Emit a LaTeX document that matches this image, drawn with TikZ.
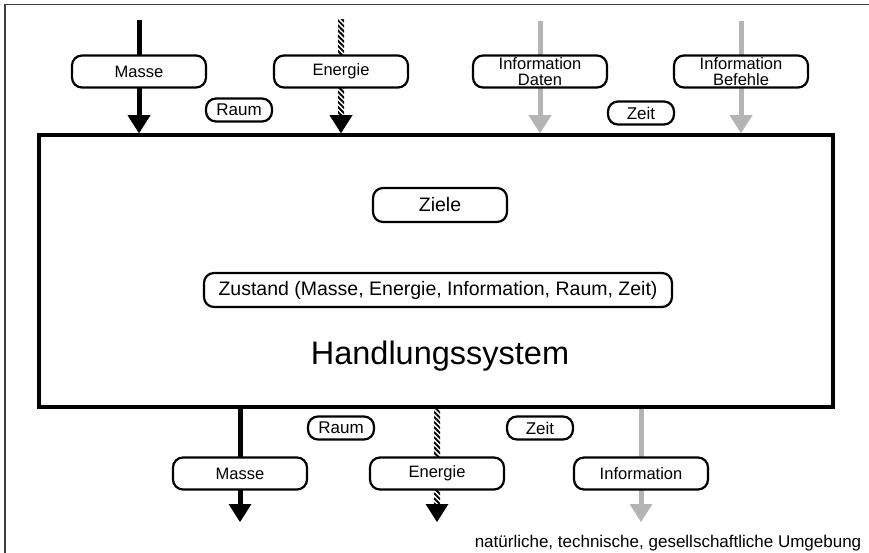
\documentclass[tikz,border=0pt]{standalone}
\usepackage{fontspec}
\setmainfont{Liberation Sans}
\usetikzlibrary{arrows.meta,patterns.meta,calc}
\definecolor{infogray}{RGB}{180,180,180}
\begin{document}
\begin{tikzpicture}[x=1pt,y=-1pt,
  labelbox/.style={draw, line width=2.2pt, rounded corners=10pt, fill=white,
    minimum width=134pt, minimum height=32pt, inner sep=0pt,
    font=\fontsize{16.5}{15.5}\selectfont, align=center},
  tagbox/.style={draw, line width=2.2pt, rounded corners=10pt, fill=white,
    minimum width=66pt, minimum height=23pt, inner sep=0pt,
    font=\fontsize{17}{17}\selectfont},
  innerbox/.style={labelbox, minimum height=34pt, font=\fontsize{19.5}{20}\selectfont},
  flowtip/.style={-{Triangle[width=23pt,length=18pt,line width=0pt]}},
  massflow/.style={flowtip, line width=5pt, draw=black, fill=black},
  infoflow/.style={flowtip, line width=5pt, draw=infogray, fill=infogray},
  hatchfill/.style={pattern={Lines[angle=-45,distance=3.6pt,line width=1.9pt]}},
]
\useasboundingbox (0,0) rectangle (869,553);
% frame
\draw[black!75, line width=1.5pt] (5,553) -- (5,4.5) -- (869,4.5);

% the action system
\node[draw, line width=3.5pt, minimum width=794pt, minimum height=272pt, inner sep=0pt] (sys) at (436,271) {};
\node[font=\fontsize{32.5}{34}\selectfont] (title) at (440,356) {Handlungssystem};
\node[innerbox] (goals) at (440,205) {Ziele};
\node[innerbox, minimum width=468pt] (state) at (438,290) {Zustand (Masse, Energie, Information, Raum, Zeit)};

% sources of the inputs
\coordinate (inM) at (139,20);
\coordinate (inE) at (341,20);
\coordinate (inD) at (540,21);
\coordinate (inB) at (741,21);
% sinks of the outputs
\coordinate (outM) at (240,522);
\coordinate (outE) at (437,522);
\coordinate (outI) at (641,522);

% inputs
\draw[massflow] (inM) -- (inM |- sys.north);
\fill[hatchfill] ($(inE)+(-3,0)$) rectangle ($(inE |- sys.north)+(3,-16)$);
\draw[flowtip, line width=0.1pt, fill=black] ($(inE |- sys.north)+(0,-18)$) -- (inE |- sys.north);
\draw[infoflow] (inD) -- (inD |- sys.north);
\draw[infoflow] (inB) -- (inB |- sys.north);

% outputs
\draw[massflow] (sys.south -| outM) -- (outM);
\fill[hatchfill] ($(sys.south -| outE)+(-3,0)$) rectangle ($(outE)+(3,-16)$);
\draw[flowtip, line width=0.1pt, fill=black] ($(outE)+(0,-18)$) -- (outE);
\draw[infoflow] (sys.south -| outI) -- (outI);

% input labels
\node[labelbox] (lInM) at (139,71.5) {Masse};
\node[labelbox] (lInE) at (341,71.5) {Energie};
\node[labelbox] (lInD) at (540,71.5) {Information\\Daten};
\node[labelbox] (lInB) at (741,71.5) {Information\\Befehle};
\node[tagbox] (rIn) at (239,110) {Raum};
\node[tagbox] (zIn) at (641,113) {Zeit};

% output labels
\node[labelbox] (lOutM) at (240,473.5) {Masse};
\node[labelbox] (lOutE) at (437,473.5) {Energie};
\node[labelbox] (lOutI) at (641,473.5) {Information};
\node[tagbox] (rOut) at (341,428) {Raum};
\node[tagbox] (zOut) at (540,428) {Zeit};

\node[font=\fontsize{17}{18}\selectfont] (env) at (668,543) {natürliche, technische, gesellschaftliche Umgebung};
\end{tikzpicture}
\end{document}
